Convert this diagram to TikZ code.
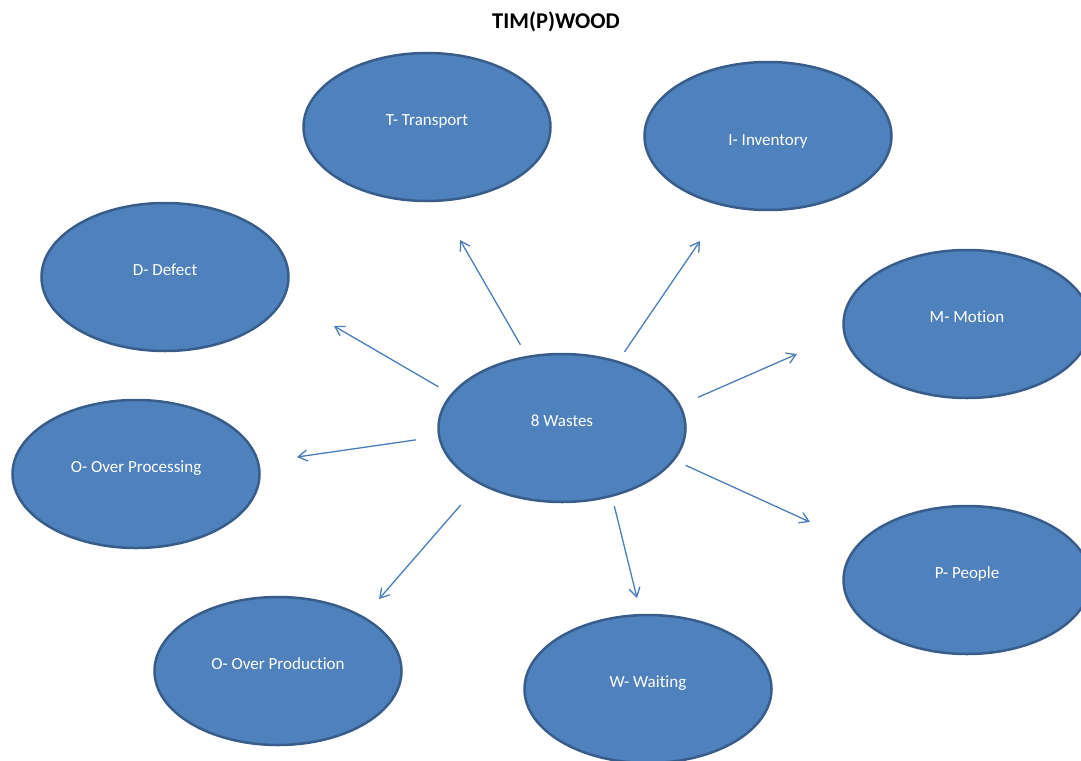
\documentclass[tikz,border=0pt]{standalone}
\usepackage{fontspec}
\setmainfont{Carlito}[Ligatures=NoCommon]
\usetikzlibrary{arrows.meta,shapes.geometric}
\definecolor{wasteblue}{HTML}{4F81BD}
\definecolor{wasteedge}{HTML}{385D8A}
\definecolor{arrowblue}{HTML}{4A7EBB}

\begin{document}
\begin{tikzpicture}[
  x=1pt, y=-1pt,
  blob/.style={ellipse, draw=wasteedge, line width=2.5pt, fill=wasteblue, minimum width=247pt, minimum height=148pt, inner sep=0pt, text=white, font=\fontsize{17}{19}\selectfont, text height=11pt, text depth=14.5pt},
  arr/.style={draw=arrowblue, line width=1.3pt, -{Straight Barb[length=9pt, width=11pt]}}
]
\useasboundingbox (0,0) rectangle (1081,760);
\node[font=\bfseries\fontsize{22.5}{26}\selectfont] (title) at (556,22) {TIM(P)WOOD};
\node[blob] (waste) at (562,428) {8 Wastes};
\node[blob] (transport) at (427,127) {T- Transport};
\node[blob, text height=20pt, text depth=1.4pt] (inventory) at (768,136) {I- Inventory};
\node[blob] (defect) at (165,277) {D- Defect};
\node[blob] (motion) at (967,324) {M- Motion};
\node[blob] (overproc) at (136,474) {O- Over Processing};
\node[blob] (overprod) at (278,671) {O- Over Production};
\node[blob] (waiting) at (648,689) {W- Waiting};
\node[blob] (people) at (967,580) {P- People};
\coordinate (tT) at (460,240);
\coordinate (tI) at (700,241);
\coordinate (tM) at (797,354);
\coordinate (tD) at (334,326);
\coordinate (tOP) at (297,457);
\coordinate (tOR) at (379,599);
\coordinate (tW) at (637,598);
\coordinate (tP) at (810,522);
\draw[arr, shorten <=12.8pt] (waste.116) -- (tT);
\draw[arr, shorten <=10.8pt] (waste.50) -- (tI);
\draw[arr, shorten <=18.8pt] (waste.11) -- (tM);
\draw[arr, shorten <=14.3pt] (waste.163) -- (tD);
\draw[arr, shorten <=22.3pt] (waste.184) -- (tOP);
\draw[arr, shorten <=27.6pt] (waste.214) -- (tOR);
\draw[arr, shorten <=9.5pt] (waste.306) -- (tW);
\draw[arr, shorten <=12.1pt] (waste.344) -- (tP);
\end{tikzpicture}
\end{document}
